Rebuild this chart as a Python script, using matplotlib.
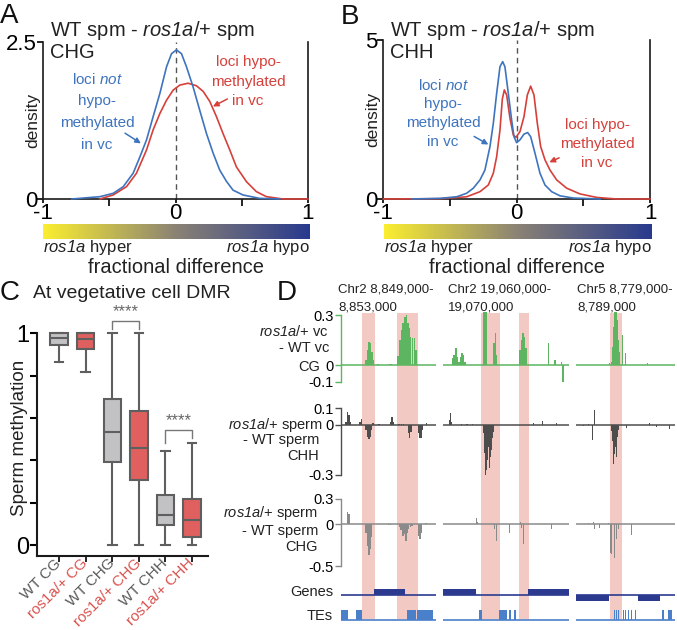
import numpy as np
import matplotlib
matplotlib.use('agg')
import matplotlib.pyplot as plt
import matplotlib.transforms as mtransforms
from matplotlib.colors import LinearSegmentedColormap

plt.rcParams['font.family'] = ['Liberation Sans', 'DejaVu Sans']
plt.rcParams['mathtext.fontset'] = 'custom'
# only italic words go through mathtext, so digits there must be italic too
plt.rcParams['mathtext.rm'] = 'Liberation Sans:italic'
plt.rcParams['mathtext.it'] = 'Liberation Sans:italic'
plt.rcParams['text.color'] = '#222222'

W, H = 677, 630
BLUE = '#3e74be'
RED = '#d6403a'
PINK = '#f2cac3'
GREEN = '#5db562'
NAVY = '#2b3a8f'
TEBLUE = '#4a7fc9'

# ---- panel A / B : density of fractional difference ----
chg_blue_x = [-0.786, -0.572, -0.472, -0.396, -0.321, -0.270, -0.220, -0.170, -0.119, -0.069, -0.031,
              0.006, 0.044, 0.082, 0.132, 0.182, 0.233, 0.283, 0.333, 0.384, 0.434, 0.509, 0.635, 0.786]
chg_blue_y = [0, 0.037, 0.09, 0.196, 0.41, 0.67, 0.94, 1.31, 1.68, 2.10, 2.31,
              2.37, 2.31, 2.10, 1.78, 1.41, 1.04, 0.73, 0.46, 0.28, 0.14, 0.064, 0.01, 0]
chg_red_x = [-0.572, -0.472, -0.371, -0.296, -0.220, -0.170, -0.119, -0.069, -0.019, 0.031, 0.094,
             0.157, 0.208, 0.258, 0.308, 0.358, 0.409, 0.459, 0.535, 0.610, 0.686, 0.811, 1.0]
chg_red_y = [0, 0.064, 0.196, 0.41, 0.78, 1.10, 1.36, 1.57, 1.73, 1.81, 1.84,
             1.80, 1.71, 1.55, 1.31, 1.04, 0.78, 0.51, 0.275, 0.117, 0.037, 0, 0]

chh_blue_x = [-0.788, -0.575, -0.45, -0.375, -0.325, -0.275, -0.238, -0.20, -0.175, -0.15, -0.125,
              -0.105, -0.088, -0.0625, -0.0375, -0.02, 0.0, 0.025, 0.055, 0.0825, 0.105, 0.1375,
              0.175, 0.2125, 0.2625, 0.325, 0.425, 0.625]
chh_blue_y = [0, 0.02, 0.07, 0.18, 0.34, 0.60, 0.91, 1.65, 2.38, 3.32, 4.16,
              4.32, 4.16, 3.32, 2.48, 1.96, 1.77, 1.86, 2.04, 2.09, 1.96, 1.44,
              0.81, 0.44, 0.23, 0.10, 0.03, 0]
chh_red_x = [-1.0, -0.575, -0.375, -0.275, -0.2125, -0.175, -0.15, -0.125, -0.1075, -0.0925, -0.075,
             -0.05, -0.025, -0.005, 0.025, 0.055, 0.08, 0.105, 0.13, 0.155, 0.18, 0.2125, 0.25,
             0.30, 0.375, 0.475, 0.60, 0.75, 1.0]
chh_red_y = [0, 0.01, 0.07, 0.23, 0.44, 0.81, 1.33, 2.17, 3.14, 3.43, 3.27,
             2.54, 2.01, 1.94, 2.12, 2.59, 3.27, 3.55, 3.27, 2.38, 1.65, 1.23, 0.91,
             0.60, 0.34, 0.16, 0.05, 0, 0]

# ---- panel C : box plot summaries ----
box_labels = ['WT CG', 'ros1a/+ CG', 'WT CHG', 'ros1a/+ CHG', 'WT CHH', 'ros1a/+ CHH']
box_med = [0.980, 0.973, 0.532, 0.460, 0.140, 0.120]
box_q1 = [0.945, 0.926, 0.392, 0.307, 0.093, 0.036]
box_q3 = [1.0, 1.0, 0.688, 0.635, 0.235, 0.216]
box_lo = [0.863, 0.819, 0.0, 0.0, 0.0, 0.0]
box_hi = [1.0, 1.0, 1.0, 1.0, 0.444, 0.482]

# ---- panel D : browser tracks (kb from region start) ----
region_chr = ['Chr2', 'Chr2', 'Chr5']
region_start = ['8,849,000-', '19,060,000-', '8,779,000-']
region_end = ['8,853,000', '19,070,000', '8,789,000']
region_kb = [4, 10, 10]

dmr_start = [[0.874, 2.378], [3.0, 6.04], [3.434]]
dmr_end = [[1.436, 3.24], [4.5, 6.785], [4.616]]

cg_pos = [[1.06, 1.12, 1.18, 1.24, 1.30, 1.36, 1.55, 2.05, 2.11, 2.42, 2.49, 2.56, 2.63, 2.70, 2.76,
           2.82, 2.88, 2.94, 3.02, 3.10, 3.17],
          [0.77, 0.89, 1.01, 1.13, 1.25, 1.40, 1.52, 1.64, 1.76, 3.20, 3.32, 3.44, 4.04, 4.14, 4.24,
           6.10, 6.22, 6.34, 6.46, 6.58, 8.34, 8.87, 9.40, 9.50],
          [3.40, 3.60, 3.70, 3.80, 3.90, 4.00, 4.10, 4.20, 4.30, 4.40, 4.65, 4.95, 7.20]]
cg_val = [[0.03, 0.09, 0.14, 0.13, 0.08, 0.03, 0.006, 0.008, 0.008, 0.055, 0.15, 0.21, 0.25, 0.29, 0.30,
           0.25, 0.22, 0.17, 0.165, 0.16, 0.09],
          [0.04, 0.06, 0.10, 0.05, 0.02, 0.05, 0.07, 0.06, 0.02, 0.5, 0.5, 0.5, 0.13, 0.19, 0.06,
           0.09, 0.15, 0.19, 0.17, 0.10, 0.13, 0.03, 0.02, -0.10],
          [0.01, 0.02, 0.11, 0.23, 0.4, 0.4, 0.32, 0.27, 0.15, 0.08, 0.18, 0.07, 0.01]]
chh_pos = [[0.21, 0.27, 0.33, 0.39, 0.80, 0.86, 1.06, 1.12, 1.18, 1.24, 1.30, 1.36, 1.60, 2.09, 2.15,
            2.21, 2.45, 2.55, 2.65, 2.84, 2.90, 2.96, 3.27, 3.33, 3.39, 3.45, 3.62],
           [0.55, 0.63, 0.71, 1.5, 1.9, 2.3, 3.19, 3.27, 3.35, 3.43, 3.51, 3.59, 3.67, 3.75, 3.83,
            3.91, 3.99, 7.15, 7.9, 9.0],
           [0.74, 1.25, 1.68, 1.88, 3.6, 3.7, 3.8, 3.9, 4.0, 4.1, 4.2, 4.3, 4.95, 5.1, 5.45, 5.86,
            7.4, 8.15, 9.43]]
chh_val = [[0.02, 0.076, 0.06, 0.02, 0.02, 0.034, -0.03, -0.07, -0.086, -0.07, -0.03, 0.01, 0.004, 0.02,
            0.046, 0.02, 0.006, 0.008, 0.006, -0.05, -0.08, -0.04, -0.05, -0.08, -0.08, -0.03, 0.014],
           [0.03, 0.07, 0.02, 0.008, 0.008, 0.008, -0.05, -0.17, -0.3, -0.27, -0.21, -0.13, -0.26,
            -0.19, -0.15, -0.08, -0.04, 0.01, 0.026, 0.01],
           [-0.005, 0.005, -0.09, 0.092, -0.034, -0.094, -0.234, -0.174, -0.134, -0.194, -0.074, -0.03,
            -0.034, -0.02, -0.054, -0.024, 0.012, -0.014, -0.024]]
chg_pos = [[0.27, 0.33, 1.06, 1.12, 1.18, 1.24, 1.30, 2.0, 2.1, 2.46, 2.53, 2.61, 2.67, 2.75, 2.80,
            2.86, 2.94, 3.00, 3.28, 3.33, 3.38, 3.59],
           [1.48, 2.67, 2.75, 4.1, 4.2, 5.3, 6.1, 6.2, 6.39, 8.61],
           [1.24, 1.75, 1.85, 2.36, 3.27, 3.5, 3.6, 3.75, 3.87, 4.05, 4.12, 4.27, 5.62, 7.65]]
chg_val = [[0.14, 0.12, -0.10, -0.26, -0.37, -0.30, -0.15, -0.01, -0.01, -0.04, -0.07, -0.14, -0.12,
            -0.20, -0.10, -0.06, -0.04, -0.02, -0.14, -0.18, -0.10, 0.01],
           [0.005, 0.07, 0.02, -0.06, -0.2, -0.11, 0.02, -0.05, -0.24, -0.06],
           [0.01, 0.03, -0.06, -0.05, 0.01, -0.35, -0.36, -0.22, -0.4, -0.5, -0.18, -0.06, -0.13, 0.005]]

gene_start = [[1.394], [0.0, 6.71], [0.0, 6.29]]
gene_end = [[2.703], [2.61, 10.0], [3.36, 8.49]]
gene_strand = [[1], [1, 1], [-1, -1]]

te_start = [[0.0, 0.634, 2.776, 3.21],
            [2.874, 4.434, 5.25, 5.62],
            [3.6, 3.84, 4.04, 4.24, 4.5, 4.75, 4.95, 5.25, 5.56, 5.96, 8.66, 9.32]]
te_end = [[0.296, 0.874, 3.156, 3.887],
          [3.112, 5.044, 5.36, 5.756],
          [3.68, 3.92, 4.12, 4.32, 4.58, 4.83, 5.03, 5.33, 5.64, 6.04, 8.89, 9.67]]

fig = plt.figure(figsize=(6.77, 6.30), dpi=100)


def rect(l, t, r, b):
    return [l / W, 1 - b / H, (r - l) / W, (b - t) / H]


def ftext(px, py, s, **kw):
    kw.setdefault('va', 'center')
    return fig.text(px / W, 1 - py / H, s, **kw)


cmap = LinearSegmentedColormap.from_list('frac', ['#fbee30', '#8a8275', '#283a8e'])


def density_panel(ax_px, cb_px, ymax, ylab, bx, by, rx, ry, tx, ctx, blue_txt, red_txt, barrow, rarrow):
    ax = fig.add_axes(rect(*ax_px))
    ax.plot(rx, ry, color=RED, lw=1.2, zorder=3, clip_on=False)
    ax.plot(bx, by, color=BLUE, lw=1.2, zorder=4, clip_on=False)
    ax.axvline(0, color='#555555', lw=1, ls=(0, (4, 3)), zorder=2)
    ax.set_xlim(-1, 1)
    ax.set_ylim(0, ymax)
    ax.set_xticks([-1, 0, 1])
    ax.set_xticklabels(['-1', '0', '1'])
    ax.set_xticks([-0.5, 0.5], minor=True)
    ax.set_yticks([0, ymax])
    ax.set_yticklabels(['0', ylab])
    ax.spines['top'].set_visible(False)
    for s in ['left', 'bottom', 'right']:
        ax.spines[s].set_linewidth(1.2)
        ax.spines[s].set_color('#1a1a1a')
    ax.tick_params(axis='x', which='major', length=3, width=1.2, pad=0, labelsize=16)
    ax.tick_params(axis='x', which='minor', length=5, width=1.2)
    ax.tick_params(axis='y', length=4, width=1.2, pad=0.5, labelsize=16)
    ax.annotate('', xy=barrow[0], xytext=barrow[1],
                arrowprops=dict(arrowstyle='-|>', color=BLUE, lw=1.1, mutation_scale=8))
    ax.annotate('', xy=rarrow[0], xytext=rarrow[1],
                arrowprops=dict(arrowstyle='-|>', color=RED, lw=1.1, mutation_scale=8))

    cax = fig.add_axes(rect(*cb_px))
    cax.imshow(np.linspace(0, 1, 256)[None, :], aspect='auto', cmap=cmap, extent=[-1, 1, 0, 1])
    cax.set_axis_off()
    ftext(cb_px[0], 248, r'$\mathit{ros1a}$ hyper', fontsize=12, ha='left')
    ftext(cb_px[2], 248, r'$\mathit{ros1a}$ hypo', fontsize=12, ha='right')
    ftext((ax_px[0] + ax_px[2]) / 2, 267, 'fractional difference', fontsize=14.5, ha='center')
    ftext(ax_px[0] - 11, (ax_px[1] + ax_px[3]) / 2, 'density', fontsize=12.5, rotation=90, ha='center')
    ftext(tx, 30, r'WT spm - $\mathit{ros1a}$/+ spm', fontsize=14.5, ha='left')
    ftext(tx, 53, ctx, fontsize=14.5, ha='left')
    for s, x, y in blue_txt:
        ftext(x, y, s, fontsize=11, ha='center', color=BLUE)
    for s, x, y in red_txt:
        ftext(x, y, s, fontsize=11, ha='center', color=RED)


density_panel((43.3, 41.7, 308, 199), (43.3, 224, 310, 239), 2.5, '2.5',
              chg_blue_x, chg_blue_y, chg_red_x, chg_red_y, 50, 'CHG',
              [(r'loci $\mathit{not}$', 97, 80), ('hypo-', 97, 101), ('methylated', 97, 123), ('in vc', 97, 145)],
              [('loci hypo-', 248, 62), ('methylated', 248, 82), ('in vc', 248, 101)],
              ((-0.245, 0.86), (-0.40, 1.07)), ((0.263, 1.45), (0.409, 1.61)))
density_panel((383.3, 40, 650, 199), (384, 224, 652, 239), 5, '5',
              chh_blue_x, chh_blue_y, chh_red_x, chh_red_y, 390, 'CHH',
              [(r'loci $\mathit{not}$', 443, 85), ('hypo-', 443, 104), ('methylated', 443, 123), ('in vc', 443, 142)],
              [('loci hypo-', 597, 125), ('methylated', 597, 144), ('in vc', 597, 163)],
              ((-0.194, 1.67), (-0.337, 2.01)), ((0.226, 1.12), (0.338, 1.33)))

# ---- panel C ----
axc = fig.add_axes(rect(37.3, 333.3, 208, 555.6))
stats = [dict(med=m, q1=a, q3=b, whislo=lo, whishi=hi, fliers=[])
         for m, a, b, lo, hi in zip(box_med, box_q1, box_q3, box_lo, box_hi)]
pos = np.arange(1, 7)
edge = '#5f5f5f'
bp = axc.bxp(stats, positions=pos, widths=0.66, capwidths=0.32, patch_artist=True, showfliers=False,
             boxprops=dict(edgecolor=edge, linewidth=1.5),
             medianprops=dict(color=edge, linewidth=1.5),
             whiskerprops=dict(color=edge, linewidth=1.5),
             capprops=dict(color=edge, linewidth=1.5))
for i, patch in enumerate(bp['boxes']):
    patch.set_facecolor('#c2c2c4' if i % 2 == 0 else '#e06060')
for k in ['boxes', 'medians', 'whiskers', 'caps']:
    for art in bp[k]:
        art.set_clip_on(False)
axc.set_xlim(0.18, 6.6)
axc.set_ylim(-0.05, 1.0)
axc.set_yticks([0, 0.2, 0.4, 0.6, 0.8, 1.0])
axc.set_yticklabels(['0', '', '', '', '', '1'])
axc.set_xticks(pos)
axc.set_xticklabels(box_labels, rotation=45, ha='right', va='center', rotation_mode='anchor', fontsize=11)
shift = mtransforms.ScaledTranslation(6 / 100, 5 / 100, fig.dpi_scale_trans)
for i, t in enumerate(axc.get_xticklabels()):
    t.set_color('#5a5a5a' if i % 2 == 0 else '#d9534f')
    t.set_transform(t.get_transform() + shift)
axc.spines['top'].set_visible(False)
axc.spines['right'].set_visible(False)
for s in ['left', 'bottom']:
    axc.spines[s].set_linewidth(1.5)
    axc.spines[s].set_color('#1a1a1a')
axc.tick_params(axis='y', length=5, width=1.5, pad=1, labelsize=17)
axc.tick_params(axis='x', length=4, width=1.2, pad=0)
for (a, b), top, lf, rf, in [((3, 4), 1.058, 1.02, 1.02), ((5, 6), 0.543, 0.48, 0.504)]:
    axc.plot([a, a, b, b], [lf, top, top, rf], color='#777777', lw=1, clip_on=False)
    axc.text((a + b) / 2, top + 0.008, '****', ha='center', va='bottom', fontsize=12, color='#666666')
ftext(20, 438, 'Sperm methylation', fontsize=13.5, rotation=90, ha='center')
ftext(33, 293, 'At vegetative cell DMR', fontsize=14, ha='left')

# ---- panel D ----
cols_px = [(341, 435.7), (443, 569.3), (576, 675)]
header_x = [338, 448, 577]
tracks = [
    dict(top=311.7, bot=381.7, ylim=(-0.1, 0.32), spine=(-0.1, 0.3), color=GREEN,
         ticks=[0.3, 0, -0.1], labels=['0.3', '0', '-0.1'], pos=cg_pos, val=cg_val, w=[0.07, 0.12, 0.1]),
    dict(top=408.3, bot=475, ylim=(-0.3, 0.1), spine=(-0.3, 0.1), color='#4d4d4d',
         ticks=[0.1, 0, -0.3], labels=['0.1', '0', '-0.3'], pos=chh_pos, val=chh_val, w=[0.06, 0.08, 0.07]),
    dict(top=499, bot=566, ylim=(-0.5, 0.3), spine=(-0.5, 0.3), color='#8a8a8a',
         ticks=[0.3, 0, -0.5], labels=['0.3', '0', '-0.5'], pos=chg_pos, val=chg_val, w=[0.06, 0.08, 0.07]),
]

for ci, (x0, x1) in enumerate(cols_px):
    L = region_kb[ci]
    bg = fig.add_axes(rect(x0, 313, x1, 619), zorder=0)
    bg.set_xlim(0, L)
    bg.set_ylim(0, 1)
    bg.set_axis_off()
    for s, e in zip(dmr_start[ci], dmr_end[ci]):
        bg.axvspan(s, e, color=PINK, lw=0)

    for tr in tracks:
        ax = fig.add_axes(rect(x0, tr['top'], x1, tr['bot']), zorder=1)
        ax.patch.set_visible(False)
        ax.axhline(0, color=tr['color'], lw=1.1, zorder=1)
        ax.bar(tr['pos'][ci], tr['val'][ci], width=tr['w'][ci], color=tr['color'], lw=0, zorder=2)
        ax.set_xlim(0, L)
        ax.set_ylim(*tr['ylim'])
        for s in ['top', 'right', 'bottom']:
            ax.spines[s].set_visible(False)
        ax.set_xticks([])
        if ci == 0:
            ax.spines['left'].set_bounds(*tr['spine'])
            ax.spines['left'].set_color(tr['color'])
            ax.spines['left'].set_linewidth(1)
            ax.set_yticks(tr['ticks'])
            ax.set_yticklabels(tr['labels'])
            ax.tick_params(axis='y', length=4, width=1, color=tr['color'], pad=1.5, labelsize=10.5)
        else:
            ax.spines['left'].set_visible(False)
            ax.set_yticks([])

    axg = fig.add_axes(rect(x0, 588, x1, 602), zorder=1)
    axg.patch.set_visible(False)
    axg.axhline(0, color=NAVY, lw=1.2)
    for s, e, st in zip(gene_start[ci], gene_end[ci], gene_strand[ci]):
        axg.bar(s, 0.85 * st, width=e - s, bottom=0, align='edge', color=NAVY, lw=0)
    axg.set_xlim(0, L)
    axg.set_ylim(-1, 1)
    axg.set_axis_off()

    axt = fig.add_axes(rect(x0, 608, x1, 622), zorder=1)
    axt.patch.set_visible(False)
    axt.axhline(0, color=TEBLUE, lw=1.2)
    for s, e in zip(te_start[ci], te_end[ci]):
        axt.bar(s, 1, width=e - s, bottom=0, align='edge', color=TEBLUE, lw=0)
    axt.set_xlim(0, L)
    axt.set_ylim(-0.2, 1.2)
    axt.set_axis_off()

    ftext(header_x[ci], 290, region_chr[ci] + ' ' + region_start[ci], fontsize=9.5, ha='left')
    ftext(header_x[ci], 307, region_end[ci], fontsize=9.5, ha='left')

for s, x, y in [(r'$\mathit{ros1a}$/+ vc', 329, 332), ('- WT vc', 329, 348), ('CG', 320, 366.7),
                (r'$\mathit{ros1a}$/+ sperm', 323, 425), ('- WT sperm', 319, 440), ('CHH', 319, 456),
                (r'$\mathit{ros1a}$/+ sperm', 318, 513), ('- WT sperm', 318, 531), ('CHG', 318, 547),
                ('Genes', 333, 592), ('TEs', 333, 616)]:
    ftext(x, y, s, fontsize=10.5, ha='right')

# panel letters
for s, x, y in [('A', 0, 16), ('B', 341, 17), ('C', 0, 293), ('D', 277, 293)]:
    ftext(x, y, s, fontsize=20, ha='left', color='#111111')

fig.savefig('out.png', dpi=100)
